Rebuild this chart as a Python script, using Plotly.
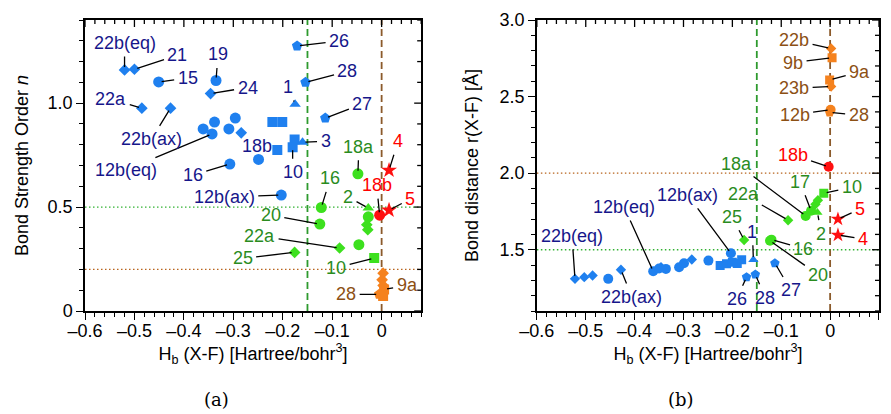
import plotly.graph_objects as go

# ---------------- Panel (a): H_b vs bond strength order n ----------------
a_blue_circle_x = [-0.451, -0.335, -0.361, -0.343, -0.338, -0.309, -0.296, -0.307, -0.249, -0.203]
a_blue_circle_y = [1.102, 1.109, 0.876, 0.852, 0.909, 0.876, 0.928, 0.707, 0.729, 0.558]
a_blue_circle_lbl = ["15", "19", "", "12b(eq)", "", "", "", "16", "18b", "12b(ax)"]
a_blue_diamond_x = [-0.520, -0.500, -0.485, -0.427, -0.346, -0.284]
a_blue_diamond_y = [1.160, 1.163, 0.976, 0.976, 1.046, 0.857]
a_blue_diamond_lbl = ["22b(eq)", "21", "22a", "22b(ax)", "24", ""]
a_blue_square_x = [-0.221, -0.201, -0.211, -0.176, -0.180]
a_blue_square_y = [0.909, 0.909, 0.775, 0.825, 0.788]
a_blue_square_lbl = ["", "", "", "", "10"]
a_blue_triangle_x = [-0.175, -0.160]
a_blue_triangle_y = [0.995, 0.812]
a_blue_triangle_lbl = ["1", "3"]
a_blue_pentagon_x = [-0.171, -0.154, -0.114]
a_blue_pentagon_y = [1.275, 1.100, 0.928]
a_blue_pentagon_lbl = ["26", "28", "27"]

a_green_circle_x = [-0.048, -0.122, -0.125, -0.027, -0.046]
a_green_circle_y = [0.660, 0.498, 0.418, 0.453, 0.319]
a_green_circle_lbl = ["18a", "16", "20", "", ""]
a_green_diamond_x = [-0.030, -0.028, -0.085, -0.176]
a_green_diamond_y = [0.415, 0.391, 0.303, 0.282]
a_green_diamond_lbl = ["", "", "22a", "25"]
a_green_triangle_x = [-0.027]
a_green_triangle_y = [0.495]
a_green_triangle_lbl = ["2"]
a_green_square_x = [-0.015]
a_green_square_y = [0.255]
a_green_square_lbl = ["10"]

a_red_circle_x = [-0.004]
a_red_circle_y = [0.461]
a_red_circle_lbl = ["18b"]
a_red_star_x = [0.015, 0.015]
a_red_star_y = [0.677, 0.485]
a_red_star_lbl = ["4", "5"]

a_orange_diamond_x = [0.003, 0.001, 0.003]
a_orange_diamond_y = [0.182, 0.150, 0.123]
a_orange_diamond_lbl = ["", "", ""]
a_orange_square_x = [0.005, 0.003]
a_orange_square_y = [0.104, 0.072]
a_orange_square_lbl = ["9a", ""]
a_orange_pentagon_x = [-0.005]
a_orange_pentagon_y = [0.080]
a_orange_pentagon_lbl = ["28"]

# ---------------- Panel (b): H_b vs bond distance r(X-F) ----------------
b_blue_diamond_x = [-0.522, -0.503, -0.486, -0.428, -0.346, -0.283]
b_blue_diamond_y = [1.310, 1.321, 1.332, 1.369, 1.386, 1.436]
b_blue_diamond_lbl = ["22b(eq)", "", "", "22b(ax)", "", ""]
b_blue_circle_x = [-0.454, -0.362, -0.350, -0.336, -0.309, -0.299, -0.249, -0.203]
b_blue_circle_y = [1.310, 1.360, 1.377, 1.375, 1.386, 1.412, 1.429, 1.477]
b_blue_circle_lbl = ["", "12b(eq)", "", "", "", "", "", "12b(ax)"]
b_blue_square_x = [-0.225, -0.212, -0.200, -0.190, -0.181]
b_blue_square_y = [1.397, 1.408, 1.418, 1.410, 1.434]
b_blue_square_lbl = ["", "", "", "", ""]
b_blue_triangle_x = [-0.157]
b_blue_triangle_y = [1.434]
b_blue_triangle_lbl = ["1"]
b_blue_pentagon_x = [-0.171, -0.153, -0.113]
b_blue_pentagon_y = [1.321, 1.338, 1.412]
b_blue_pentagon_lbl = ["26", "28", "27"]

b_green_circle_x = [-0.050, -0.039, -0.120, -0.123]
b_green_circle_y = [1.721, 1.754, 1.566, 1.559]
b_green_circle_lbl = ["18a", "17", "16", "20"]
b_green_diamond_x = [-0.030, -0.025, -0.086, -0.176]
b_green_diamond_y = [1.797, 1.823, 1.693, 1.564]
b_green_diamond_lbl = ["", "", "22a", "25"]
b_green_triangle_x = [-0.026]
b_green_triangle_y = [1.743]
b_green_triangle_lbl = ["2"]
b_green_square_x = [-0.013]
b_green_square_y = [1.869]
b_green_square_lbl = ["10"]

b_red_circle_x = [-0.003]
b_red_circle_y = [2.042]
b_red_circle_lbl = ["18b"]
b_red_star_x = [0.016, 0.016]
b_red_star_y = [1.700, 1.596]
b_red_star_lbl = ["5", "4"]

b_orange_diamond_x = [0.002, 0.002]
b_orange_diamond_y = [2.814, 2.566]
b_orange_diamond_lbl = ["22b", "23b"]
b_orange_square_x = [0.004, -0.001]
b_orange_square_y = [2.754, 2.609]
b_orange_square_lbl = ["9b", "9a"]
b_orange_circle_x = [0.001]
b_orange_circle_y = [2.414]
b_orange_circle_lbl = ["12b"]
b_orange_pentagon_x = [-0.001]
b_orange_pentagon_y = [2.397]
b_orange_pentagon_lbl = ["28"]

# reference lines
hb_thresholds = [-0.15, 0.0]
a_n_thresholds = [0.5, 0.2]
b_r_thresholds = [2.0, 1.5]

# tick labels
a_x_ticks = [-0.6, -0.5, -0.4, -0.3, -0.2, -0.1, 0.0]
a_x_ticktext = ["\u20130.6", "\u20130.5", "\u20130.4", "\u20130.3", "\u20130.2", "\u20130.1", "0"]
a_y_ticks = [0.0, 0.5, 1.0]
a_y_ticktext = ["0", "0.5", "1.0"]
b_x_ticks = [-0.6, -0.5, -0.4, -0.3, -0.2, -0.1, 0.0, 0.1]
b_x_ticktext = ["\u20130.6", "\u20130.5", "\u20130.4", "\u20130.3", "\u20130.2", "\u20130.1", "0", "0.1"]
b_y_ticks = [1.5, 2.0, 2.5, 3.0]
b_y_ticktext = ["1.5", "2.0", "2.5", "3.0"]

# ---------------- label offsets (pixels, text centre relative to marker) ----------------
a_blue_circle_off = [(29, -4), (2, -26), None, (-86, 36), None, None, None, (-37, 11), (-2, -13), (-57, 2)]
a_blue_diamond_off = [(0, -27), (43, -14), (-31, -9), (-19, 31), (37, -6), None]
a_blue_square_off = [None, None, None, None, (0, 25)]
a_blue_triangle_off = [(-7, -17), (23, -1)]
a_blue_pentagon_off = [(42, -5), (42, -11), (37, -14)]
a_green_circle_off = [(1, -27), (9, -29), (-49, -9), None, None]
a_green_diamond_off = [None, None, (-80, -12), (-52, 6)]
a_green_triangle_off = [(-20, -11)]
a_green_square_off = [(-38, 10)]
a_red_circle_off = [(-3, -30)]
a_red_star_off = [(9, -29), (21, -11)]
a_orange_diamond_off = [None, None, None]
a_orange_square_off = [(23, -4), None]
a_orange_pentagon_off = [(-33, 0)]

b_blue_diamond_off = [(-3, -43), None, None, (11, 27), None, None]
b_blue_circle_off = [None, (-29, -64), None, None, None, None, None, (-43, -58)]
b_blue_square_off = [None] * 5
b_blue_triangle_off = [(-1, -28)]
b_blue_pentagon_off = [(-10, 22), (10, 23), (16, 27)]
b_green_circle_off = [(-69, -52), (-11, -29), (32, 9), (48, 34)]
b_green_diamond_off = [None, None, (-45, -26), (-12, -23)]
b_green_triangle_off = [(4, 21)]
b_green_square_off = [(28, -6)]
b_red_circle_off = [(-36, -12)]
b_red_star_off = [(22, -10), (25, 4)]
b_orange_diamond_off = [(-37, -8), (-37, 2)]
b_orange_square_off = [(-39, 5), (30, -8)]
b_orange_circle_off = [(-36, 5)]
b_orange_pentagon_off = [(29, 3)]

# ---------------- styles ----------------
MARK = {"blue": "#1f80ef", "green": "#3de01e", "red": "#ff1010", "orange": "#f5821e"}
TEXT = {"blue": "#16168a", "green": "#2a8c1e", "red": "#ff0000", "orange": "#8c5014"}
FONT = "Liberation Sans, Arial, Helvetica, sans-serif"
FS = 18
SIZE_A = {"circle": 11, "diamond": 9, "square": 10, "triangle-up": 10, "pentagon": 11, "star": 12}
SIZE_B = {"circle": 10, "diamond": 8, "square": 9, "triangle-up": 9, "pentagon": 10, "star": 11}

series_a = [
    ("blue", "circle", a_blue_circle_x, a_blue_circle_y, a_blue_circle_lbl, a_blue_circle_off),
    ("blue", "diamond", a_blue_diamond_x, a_blue_diamond_y, a_blue_diamond_lbl, a_blue_diamond_off),
    ("blue", "square", a_blue_square_x, a_blue_square_y, a_blue_square_lbl, a_blue_square_off),
    ("blue", "triangle-up", a_blue_triangle_x, a_blue_triangle_y, a_blue_triangle_lbl, a_blue_triangle_off),
    ("blue", "pentagon", a_blue_pentagon_x, a_blue_pentagon_y, a_blue_pentagon_lbl, a_blue_pentagon_off),
    ("green", "circle", a_green_circle_x, a_green_circle_y, a_green_circle_lbl, a_green_circle_off),
    ("green", "diamond", a_green_diamond_x, a_green_diamond_y, a_green_diamond_lbl, a_green_diamond_off),
    ("green", "triangle-up", a_green_triangle_x, a_green_triangle_y, a_green_triangle_lbl, a_green_triangle_off),
    ("green", "square", a_green_square_x, a_green_square_y, a_green_square_lbl, a_green_square_off),
    ("red", "circle", a_red_circle_x, a_red_circle_y, a_red_circle_lbl, a_red_circle_off),
    ("red", "star", a_red_star_x, a_red_star_y, a_red_star_lbl, a_red_star_off),
    ("orange", "diamond", a_orange_diamond_x, a_orange_diamond_y, a_orange_diamond_lbl, a_orange_diamond_off),
    ("orange", "square", a_orange_square_x, a_orange_square_y, a_orange_square_lbl, a_orange_square_off),
    ("orange", "pentagon", a_orange_pentagon_x, a_orange_pentagon_y, a_orange_pentagon_lbl, a_orange_pentagon_off),
]
series_b = [
    ("blue", "diamond", b_blue_diamond_x, b_blue_diamond_y, b_blue_diamond_lbl, b_blue_diamond_off),
    ("blue", "circle", b_blue_circle_x, b_blue_circle_y, b_blue_circle_lbl, b_blue_circle_off),
    ("blue", "square", b_blue_square_x, b_blue_square_y, b_blue_square_lbl, b_blue_square_off),
    ("blue", "triangle-up", b_blue_triangle_x, b_blue_triangle_y, b_blue_triangle_lbl, b_blue_triangle_off),
    ("blue", "pentagon", b_blue_pentagon_x, b_blue_pentagon_y, b_blue_pentagon_lbl, b_blue_pentagon_off),
    ("green", "circle", b_green_circle_x, b_green_circle_y, b_green_circle_lbl, b_green_circle_off),
    ("green", "diamond", b_green_diamond_x, b_green_diamond_y, b_green_diamond_lbl, b_green_diamond_off),
    ("green", "triangle-up", b_green_triangle_x, b_green_triangle_y, b_green_triangle_lbl, b_green_triangle_off),
    ("green", "square", b_green_square_x, b_green_square_y, b_green_square_lbl, b_green_square_off),
    ("red", "circle", b_red_circle_x, b_red_circle_y, b_red_circle_lbl, b_red_circle_off),
    ("red", "star", b_red_star_x, b_red_star_y, b_red_star_lbl, b_red_star_off),
    ("orange", "diamond", b_orange_diamond_x, b_orange_diamond_y, b_orange_diamond_lbl, b_orange_diamond_off),
    ("orange", "square", b_orange_square_x, b_orange_square_y, b_orange_square_lbl, b_orange_square_off),
    ("orange", "circle", b_orange_circle_x, b_orange_circle_y, b_orange_circle_lbl, b_orange_circle_off),
    ("orange", "pentagon", b_orange_pentagon_x, b_orange_pentagon_y, b_orange_pentagon_lbl, b_orange_pentagon_off),
]

A_XR = [-0.6, 0.08]
A_YR = [0, 1.4]
B_XR = [-0.6, 0.1]
B_YR = [1.1, 3.0]

fig = go.Figure()


def add_series(series, xa, ya, sizes):
    for color, sym, xs, ys, lbls, offs in series:
        fig.add_trace(go.Scatter(
            x=xs, y=ys, mode="markers", xaxis=xa, yaxis=ya, showlegend=False,
            marker=dict(symbol=sym, size=sizes[sym], color=MARK[color], line=dict(width=0)),
            hoverinfo="skip"))
        for x, y, t, off in zip(xs, ys, lbls, offs):
            if not t or off is None:
                continue
            fig.add_annotation(
                x=x, y=y, xref=xa, yref=ya, text=t, showarrow=True,
                ax=off[0], ay=off[1], arrowhead=0, arrowwidth=1.3, arrowcolor="black",
                standoff=3, startstandoff=2,
                font=dict(family=FONT, size=FS, color=TEXT[color]))


add_series(series_a, "x", "y", SIZE_A)
add_series(series_b, "x2", "y2", SIZE_B)

# reference lines
vcolors = ["#2e9a2e", "#8b5a2b"]
for xr, yr in [("x", "y"), ("x2", "y2")]:
    for v, c in zip(hb_thresholds, vcolors):
        fig.add_shape(type="line", xref=xr, yref=yr + " domain", x0=v, x1=v, y0=0, y1=1,
                      line=dict(color=c, width=1.8, dash="7px,4px"), layer="below")
for h, c in zip(a_n_thresholds, ["#33b233", "#b8641e"]):
    fig.add_shape(type="line", xref="x domain", yref="y", x0=0, x1=1, y0=h, y1=h,
                  line=dict(color=c, width=1.3, dash="1.5px,2.5px"), layer="below")
for h, c in zip(b_r_thresholds, ["#b8641e", "#33b233"]):
    fig.add_shape(type="line", xref="x2 domain", yref="y2", x0=0, x1=1, y0=h, y1=h,
                  line=dict(color=c, width=1.3, dash="1.5px,2.5px"), layer="below")


# inside ticks on the top and right frame edges (axis decoration)
def frame_ticks(xa, ya, xr, yr, xstep, xmajor, ystep, ymajor):
    n = int(round((xr[1] - xr[0]) / xstep))
    for i in range(n + 1):
        v = round(xr[0] + i * xstep, 4)
        L = 7 if abs(v / xmajor - round(v / xmajor)) < 1e-6 else 4
        fig.add_shape(type="line", xref=xa, yref=ya + " domain", x0=v, x1=v,
                      ysizemode="pixel", yanchor=1, y0=0, y1=-L,
                      line=dict(color="black", width=1.3))
    n = int(round((yr[1] - yr[0]) / ystep))
    for i in range(n + 1):
        v = round(yr[0] + i * ystep, 4)
        L = 7 if abs(v / ymajor - round(v / ymajor)) < 1e-6 else 4
        fig.add_shape(type="line", xref=xa + " domain", yref=ya, y0=v, y1=v,
                      xsizemode="pixel", xanchor=1, x0=0, x1=-L,
                      line=dict(color="black", width=1.3))


frame_ticks("x", "y", A_XR, A_YR, 0.02, 0.1, 0.1, 0.5)
frame_ticks("x2", "y2", B_XR, B_YR, 0.02, 0.1, 0.1, 0.5)

base = dict(showgrid=False, zeroline=False, tickcolor="black", tickwidth=1.3, ticklen=7,
            tickfont=dict(family=FONT, size=FS, color="black"))
frame = dict(showline=True, linecolor="black", linewidth=1.5, mirror=True, ticks="outside")

DOM_A = [0.0, 0.4234]
DOM_B = [0.5691, 1.0]
xtitle = dict(text="H<sub>b</sub> (X-F) [Hartree/bohr<sup>3</sup>]",
              font=dict(family=FONT, size=FS, color="black"), standoff=2)


def minor(d):
    return dict(ticks="outside", ticklen=4, tickwidth=1.2, tickcolor="black", tick0=0, dtick=d)


fig.update_layout(
    width=891, height=414,
    margin=dict(l=85, r=10, t=19, b=103),
    plot_bgcolor="white", paper_bgcolor="white",
    font=dict(family=FONT, size=FS, color="black"),
    showlegend=False,
    xaxis=dict(**base, **frame, domain=DOM_A, range=A_XR, anchor="y",
               tickmode="array", tickvals=a_x_ticks, ticktext=a_x_ticktext,
               ticklabelstandoff=-4, minor=minor(0.02), title=xtitle),
    yaxis=dict(**base, **frame, domain=[0, 1], range=A_YR, anchor="x",
               tickmode="array", tickvals=a_y_ticks, ticktext=a_y_ticktext,
               minor=minor(0.1),
               title=dict(text="Bond Strength Order <i>n</i>", font=dict(family=FONT, size=FS, color="black"), standoff=14)),
    xaxis2=dict(**base, **frame, domain=DOM_B, range=B_XR, anchor="y2",
                tickmode="array", tickvals=b_x_ticks, ticktext=b_x_ticktext,
                ticklabelstandoff=-4, minor=minor(0.02), title=xtitle),
    yaxis2=dict(**base, **frame, domain=[0, 1], range=B_YR, anchor="x2",
                tickmode="array", tickvals=b_y_ticks, ticktext=b_y_ticktext,
                minor=minor(0.1),
                title=dict(text="Bond distance r(X-F) [Å]", font=dict(family=FONT, size=FS, color="black"), standoff=16)),
)

for txt, px in [("(a)", 217), ("(b)", 683)]:
    fig.add_annotation(text=txt, xref="paper", yref="paper", x=(px - 85) / 796, y=(311 - 400) / 292,
                       xanchor="center", yanchor="middle", showarrow=False,
                       font=dict(family="DejaVu Serif, Liberation Serif, serif", size=18, color="black"))

fig.write_html("out.html", config={"displayModeBar": False},
               post_script="document.body.style.margin='0px';")
